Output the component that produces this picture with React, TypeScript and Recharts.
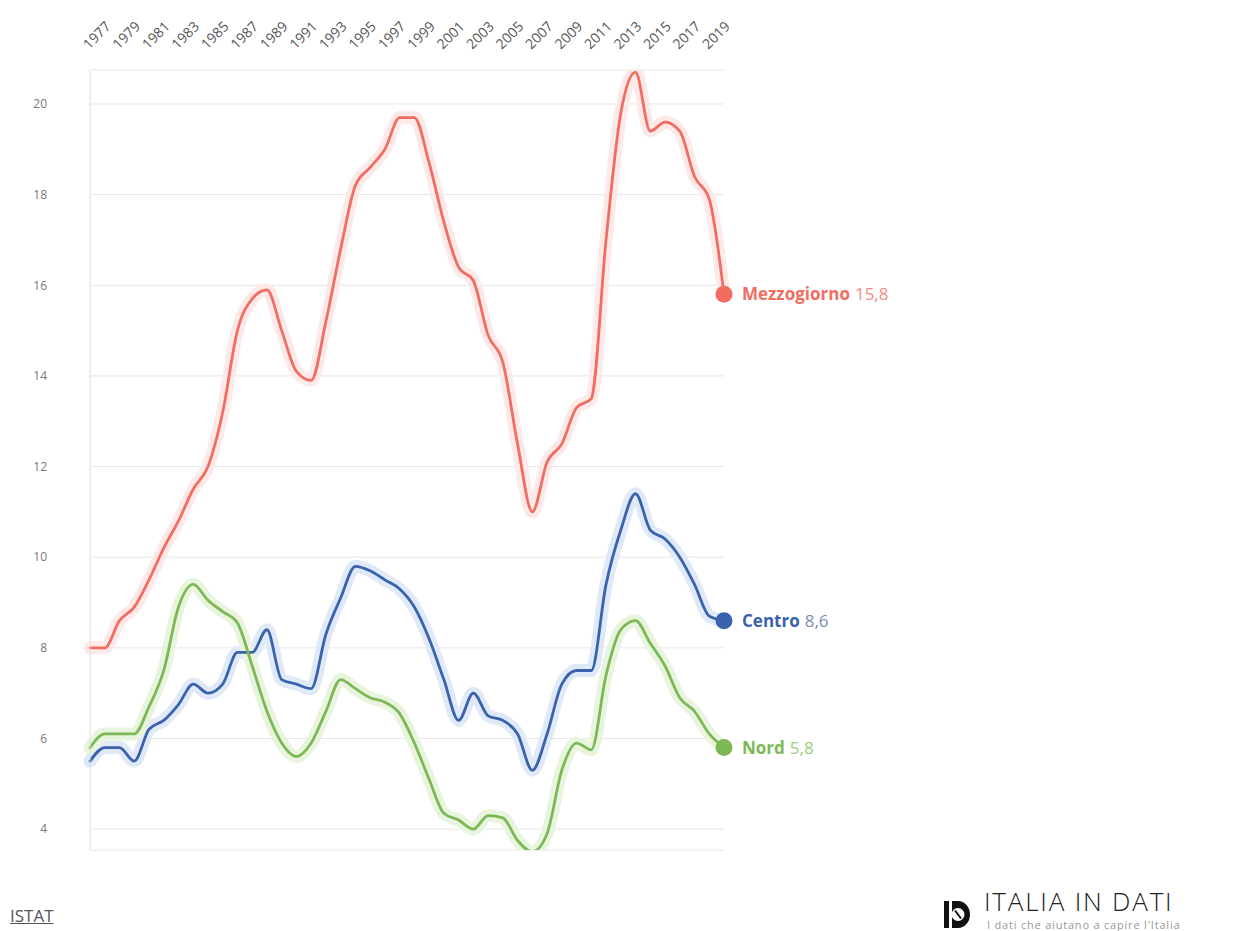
import React from 'react'
import { LineChart, Line, XAxis, YAxis, CartesianGrid } from 'recharts'

// Tasso di disoccupazione per ripartizione (ISTAT), 1977-2020
const years = [
    1977, 1978, 1979, 1980, 1981, 1982, 1983, 1984, 1985, 1986,
    1987, 1988, 1989, 1990, 1991, 1992, 1993, 1994, 1995, 1996,
    1997, 1998, 1999, 2000, 2001, 2002, 2003, 2004, 2005, 2006,
    2007, 2008, 2009, 2010, 2011, 2012, 2013, 2014, 2015, 2016,
    2017, 2018, 2019, 2020,
]

const mezzogiorno = [
    8.0, 8.0, 8.6, 8.9, 9.5, 10.2, 10.8, 11.5, 12.0, 13.2,
    15.0, 15.7, 15.9, 15.0, 14.1, 13.9, 15.2, 16.8, 18.2, 18.6,
    19.0, 19.7, 19.7, 18.7, 17.4, 16.4, 16.1, 14.9, 14.3, 12.5,
    11.0, 12.1, 12.5, 13.3, 13.5, 17.0, 19.8, 20.7, 19.4, 19.6,
    19.4, 18.4, 17.9, 15.8,
]

const centro = [
    5.5, 5.8, 5.8, 5.5, 6.2, 6.4, 6.75, 7.2, 7.0, 7.2,
    7.9, 7.9, 8.4, 7.3, 7.2, 7.1, 8.3, 9.1, 9.8, 9.7,
    9.5, 9.3, 8.9, 8.2, 7.3, 6.4, 7.0, 6.5, 6.4, 6.1,
    5.3, 6.1, 7.2, 7.5, 7.5, 9.4, 10.6, 11.4, 10.6, 10.4,
    10.0, 9.4, 8.7, 8.6,
]

const nord = [
    5.8, 6.1, 6.1, 6.1, 6.7, 7.5, 8.9, 9.4, 9.05, 8.8,
    8.55, 7.6, 6.6, 5.9, 5.6, 5.9, 6.6, 7.3, 7.1, 6.9,
    6.8, 6.55, 5.9, 5.1, 4.35, 4.2, 4.0, 4.3, 4.25, 3.75,
    3.5, 3.9, 5.3, 5.9, 5.75, 7.4, 8.4, 8.6, 8.1, 7.6,
    6.9, 6.6, 6.1, 5.8,
]

const tickYears = [
    1977, 1979, 1981, 1983, 1985, 1987, 1989, 1991, 1993, 1995, 1997,
    1999, 2001, 2003, 2005, 2007, 2009, 2011, 2013, 2015, 2017, 2019,
]
const yTicks = [4, 6, 8, 10, 12, 14, 16, 18, 20]

const data = years.map((year, i) => ({
    year,
    mezzogiorno: mezzogiorno[i],
    centro: centro[i],
    nord: nord[i],
}))

const FONT = '"Open Sans", "Noto Sans", sans-serif'

const SERIES = [
    { key: 'mezzogiorno', name: 'Mezzogiorno', color: '#f26c62', halo: '#fdeae8', valueColor: '#f08d85' },
    { key: 'centro', name: 'Centro', color: '#3a62ad', halo: '#dfe9f8', valueColor: '#7a8cb8' },
    { key: 'nord', name: 'Nord', color: '#7cb955', halo: '#e9f4df', valueColor: '#9ccb80' },
]

function TopTick({ x, y, payload }: any) {
    const ax = x - 1
    const ay = y - 8
    return (
        <text
            x={ax}
            y={ay}
            transform={`rotate(-45 ${ax} ${ay})`}
            textAnchor="start"
            fontSize={14}
            fill="#555"
            fontFamily={FONT}
        >
            {payload.value}
        </text>
    )
}

function endDot(s: typeof SERIES[number], values: number[]) {
    const last = values.length - 1
    return (props: any) => {
        const { cx, cy, index } = props
        if (index !== last) return <g key={`d-${s.key}-${index}`} />
        return (
            <g key={`d-${s.key}-${index}`}>
                <circle cx={cx} cy={cy} r={8.5} fill={s.color} />
                <text x={cx + 18} y={cy + 6} fontSize={17} fontFamily={FONT}>
                    <tspan fontWeight={700} fill={s.color}>{s.name}</tspan>
                    <tspan dx={5} fontWeight={400} fill={s.valueColor}>
                        {values[last].toFixed(1).replace('.', ',')}
                    </tspan>
                </text>
            </g>
        )
    }
}

const seriesValues: Record<string, number[]> = { mezzogiorno, centro, nord }

export default function App() {
    return (
        <div style={{ position: 'absolute', left: 0, top: 0, width: 1237, height: 931, background: '#fff', overflow: 'hidden' }}>
            <LineChart
                width={1237}
                height={860}
                data={data}
                margin={{ top: 10, right: 513, bottom: 10, left: 30 }}
            >
                <CartesianGrid vertical={false} stroke="#e6e6e6" />
                <XAxis
                    dataKey="year"
                    type="number"
                    orientation="top"
                    domain={[1977, 2020]}
                    ticks={tickYears}
                    interval={0}
                    height={60}
                    axisLine={false}
                    tickLine={false}
                    tickSize={0}
                    tickMargin={12}
                    tick={<TopTick />}
                />
                <YAxis
                    type="number"
                    domain={[3.54, 20.75]}
                    ticks={yTicks}
                    allowDataOverflow
                    width={60}
                    axisLine={{ stroke: '#dddddd' }}
                    tickLine={false}
                    tickSize={0}
                    tickMargin={43}
                    tick={{ fontSize: 12, fill: '#777', fontFamily: FONT }}
                />
                {SERIES.map((s) => (
                    <Line
                        key={`halo-${s.key}`}
                        dataKey={s.key}
                        type="monotone"
                        stroke={s.halo}
                        strokeWidth={13}
                        strokeLinecap="round"
                        strokeLinejoin="round"
                        dot={false}
                        activeDot={false}
                        isAnimationActive={false}
                    />
                ))}
                {SERIES.map((s) => (
                    <Line
                        key={`line-${s.key}`}
                        dataKey={s.key}
                        type="monotone"
                        stroke={s.color}
                        strokeWidth={2.8}
                        strokeLinecap="round"
                        strokeLinejoin="round"
                        dot={endDot(s, seriesValues[s.key])}
                        activeDot={false}
                        isAnimationActive={false}
                    />
                ))}
            </LineChart>

            <div
                style={{
                    position: 'absolute',
                    left: 10,
                    top: 904,
                    fontFamily: FONT,
                    fontSize: 17,
                    color: '#555',
                    textDecoration: 'underline',
                }}
            >
                ISTAT
            </div>

            <div style={{ position: 'absolute', left: 944, top: 898 }}>
                <svg width={26} height={30} viewBox="0 0 26 30">
                    <rect x={0} y={3} width={5} height={27} fill="#111" />
                    <path d="M8 3 H14 A12 13.5 0 0 1 14 30 H8 Z" fill="#111" />
                    <circle cx={14} cy={16.5} r={6.5} fill="#fff" />
                    <path d="M11 12.5 L17 20.5" stroke="#111" strokeWidth={2} />
                </svg>
            </div>
            <div
                style={{
                    position: 'absolute',
                    left: 984,
                    top: 886,
                    fontFamily: FONT,
                    fontSize: 26,
                    fontWeight: 300,
                    color: '#222',
                    letterSpacing: 1.8,
                    whiteSpace: 'nowrap',
                    lineHeight: '30px',
                }}
            >
                ITALIA IN DATI
            </div>
            <div
                style={{
                    position: 'absolute',
                    left: 987,
                    top: 918,
                    fontFamily: FONT,
                    fontSize: 11,
                    color: '#999',
                    letterSpacing: 0.8,
                    whiteSpace: 'nowrap',
                    lineHeight: '13px',
                }}
            >
                I dati che aiutano a capire l'Italia
            </div>
        </div>
    )
}
